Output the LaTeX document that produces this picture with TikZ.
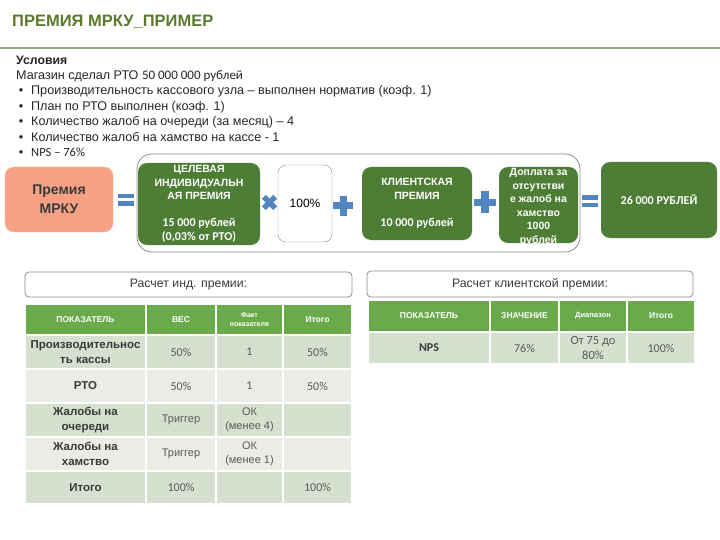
\documentclass[tikz,border=0pt]{standalone}
\usepackage{fontspec}
\setmainfont{Liberation Sans}
\newfontfamily\calib{Carlito}
\usetikzlibrary{positioning}
\definecolor{titlegreen}{HTML}{5A7A2C}
\definecolor{rulegreen}{HTML}{8FA882}
\definecolor{boxgreen}{HTML}{4E7D35}
\definecolor{headgreen}{HTML}{6AAA4A}
\definecolor{rowdark}{HTML}{D5E1CE}
\definecolor{rowlight}{HTML}{E9EDE6}
\definecolor{signblue}{HTML}{5286C2}
\definecolor{salmon}{HTML}{F6A184}
\definecolor{textgray}{HTML}{3A3A3A}
\definecolor{valgray}{HTML}{595959}
\newcommand\fsz[2]{\fontsize{#1}{#2}\selectfont}
\tikzset{
  cond/.style={anchor=base west, inner sep=0pt, text=black!85, font=\fsz{12.6}{15}},
  greenbox/.style={fill=boxgreen, rounded corners=9pt, text=white, align=center,
    inner sep=1pt, font=\bfseries\fsz{10.5}{13.5}},
  groupframe/.style={draw=black!45, rounded corners=15pt, line width=0.8pt},
  capbox/.style={draw=black!45, rounded corners=4pt, line width=0.8pt, text=textgray,
    font=\fsz{12.3}{15}},
  hcell/.style={fill=headgreen, draw=white, line width=1.2pt, text=white, align=center,
    inner sep=0pt, font=\bfseries\fsz{8.5}{10}},
  dcell/.style={fill=rowdark, draw=white, line width=1.2pt, text=valgray, align=center,
    inner sep=0pt, font=\fsz{11}{14}},
  lcell/.style={dcell, fill=rowlight},
  rowlabel/.style={text=textgray, font=\bfseries\fsz{11.5}{15}},
  eqsign/.pic={\fill[signblue] (-8,-6) rectangle (8,-1.5);
    \fill[signblue] (-8,1.5) rectangle (8,6);},
  plussign/.pic={\fill[signblue] (-10,-3.5) rectangle (10,3.5);
    \fill[signblue] (-3.5,-10) rectangle (3.5,10);}
}
\begin{document}
\begin{tikzpicture}[x=1pt,y=-1pt]
  \useasboundingbox (0,0) rectangle (720,540);
  % title
  \node[anchor=base west, inner sep=0pt, text=titlegreen, font=\bfseries\fsz{16.5}{20}]
    (title) at (12,26.5) {ПРЕМИЯ МРКУ\_ПРИМЕР};
  \draw[rulegreen, line width=2pt] (0,48.5) -- (720,48.5);
  % conditions
  \node[cond, font=\bfseries\fsz{12.3}{15}] (cond0) at (16,64.5) {Условия};
  \node[cond] (cond1) at (16,79.5) {Магазин сделал РТО {\calib\fsz{13}{15}50 000 000 рублей}};
  \node[cond] (cond2) at (31,95) {\llap{•\hspace{8pt}}Производительность кассового узла – выполнен норматив (коэф. 1)};
  \node[cond] (cond3) at (31,110.5) {\llap{•\hspace{8pt}}План по РТО выполнен (коэф. 1)};
  \node[cond] (cond4) at (31,126) {\llap{•\hspace{8pt}}Количество жалоб на очереди (за месяц) – 4};
  \node[cond] (cond5) at (31,141.5) {\llap{•\hspace{8pt}}Количество жалоб на хамство на кассе - 1};
  \node[cond] (cond6) at (31,156.5) {\llap{•\hspace{8pt}}{\calib\fsz{12.5}{15}NPS – 76\%}};
  % formula
  \node[groupframe, minimum width=443, minimum height=98] (group) at (358.5,203) {};
  \node[fill=salmon, draw=salmon!75!white, rounded corners=9pt, minimum width=108,
    minimum height=65, align=center, text=textgray, font=\bfseries\fsz{14}{19}]
    (mrku) at (59,199.5) {Премия\\МРКУ};
  \pic at (125.5,200) {eqsign};
  \node[greenbox, minimum width=122, minimum height=82] (target) at (199,204)
    {ЦЕЛЕВАЯ\\ИНДИВИДУАЛЬН\\АЯ ПРЕМИЯ\\~\\{\calib\fsz{12}{13.5}15 000 рублей}\\{\calib\fsz{12}{13.5}(0,03\% от РТО)}};
  \pic[rotate=45, scale=0.8] at (269.5,202.5) {plussign};
  \node[draw=black!45, rounded corners=8pt, minimum width=54, minimum height=77,
    font=\fsz{12}{15}] (pct) at (305,203.5) {100\%};
  \pic at (343,206) {plussign};
  \node[greenbox, minimum width=110, minimum height=73] (client) at (417,203.5)
    {КЛИЕНТСКАЯ\\ПРЕМИЯ\\~\\{\calib\fsz{12}{13.5}10 000 рублей}};
  \pic[scale=1.1] at (485,202.5) {plussign};
  \node[greenbox, minimum width=79, minimum height=76] (extra) at (538.5,205) {};
  \begin{scope}
    \clip (499,150) rectangle (578,242);
    \node[greenbox, fill=none] (extratext) at (538.5,207)
      {Доплата за\\отсутстви\\е жалоб на\\хамство\\1000\\рублей};
  \end{scope}
  \pic at (590,201.5) {eqsign};
  \node[greenbox, minimum width=116, minimum height=76] (total) at (659,200)
    {\calib\fsz{12}{14}26 000 РУБЛЕЙ};
  % individual bonus table
  \node[capbox, minimum width=327, minimum height=25] (cap1) at (188.5,284.5) {Расчет инд. премии:};
  \node[hcell, minimum width=121, minimum height=31] (h11) at (85.5,319.5) {ПОКАЗАТЕЛЬ};
  \node[hcell, minimum width=70, minimum height=31] (h12) at (181,319.5) {ВЕС};
  \node[hcell, minimum width=67, minimum height=31, font=\bfseries\fsz{7}{8.5}] (h13) at (249.5,319.5) {Факт\\показателя};
  \node[hcell, minimum width=69, minimum height=31] (h14) at (317.5,319.5) {Итого};
  \node[dcell, rowlabel, minimum width=121, minimum height=34] (r11) at (85.5,352) {Производительнос\\ть кассы};
  \node[dcell, minimum width=70, minimum height=34, font=\calib\fsz{12}{14}] (r12) at (181,352) {50\%};
  \node[dcell, minimum width=67, minimum height=34, font=\calib\fsz{12}{14}] (r13) at (249.5,352) {1};
  \node[dcell, minimum width=69, minimum height=34, font=\calib\fsz{12}{14}] (r14) at (317.5,352) {50\%};
  \node[lcell, rowlabel, minimum width=121, minimum height=34] (r21) at (85.5,386) {РТО};
  \node[lcell, minimum width=70, minimum height=34, font=\calib\fsz{12}{14}] (r22) at (181,386) {50\%};
  \node[lcell, minimum width=67, minimum height=34, font=\calib\fsz{12}{14}] (r23) at (249.5,386) {1};
  \node[lcell, minimum width=69, minimum height=34, font=\calib\fsz{12}{14}] (r24) at (317.5,386) {50\%};
  \node[dcell, rowlabel, minimum width=121, minimum height=34] (r31) at (85.5,420) {Жалобы на\\очереди};
  \node[dcell, minimum width=70, minimum height=34] (r32) at (181,420) {Триггер};
  \node[dcell, minimum width=67, minimum height=34] (r33) at (249.5,420) {ОК\\(менее 4)};
  \node[dcell, minimum width=69, minimum height=34] (r34) at (317.5,420) {};
  \node[lcell, rowlabel, minimum width=121, minimum height=34] (r41) at (85.5,454) {Жалобы на\\хамство};
  \node[lcell, minimum width=70, minimum height=34] (r42) at (181,454) {Триггер};
  \node[lcell, minimum width=67, minimum height=34] (r43) at (249.5,454) {ОК\\(менее 1)};
  \node[lcell, minimum width=69, minimum height=34] (r44) at (317.5,454) {};
  \node[dcell, rowlabel, minimum width=121, minimum height=33] (r51) at (85.5,487.5) {Итого};
  \node[dcell, minimum width=70, minimum height=33, font=\calib\fsz{12}{14}] (r52) at (181,487.5) {100\%};
  \node[dcell, minimum width=67, minimum height=33] (r53) at (249.5,487.5) {};
  \node[dcell, minimum width=69, minimum height=33, font=\calib\fsz{12}{14}] (r54) at (317.5,487.5) {100\%};
  % client bonus table
  \node[capbox, minimum width=326, minimum height=26] (cap2) at (530,284) {Расчет клиентской премии:};
  \node[hcell, minimum width=122, minimum height=32] (h21) at (429,316) {ПОКАЗАТЕЛЬ};
  \node[hcell, minimum width=69, minimum height=32] (h22) at (524.5,316) {ЗНАЧЕНИЕ};
  \node[hcell, minimum width=68, minimum height=32, font=\bfseries\fsz{7.5}{9}] (h23) at (593,316) {Диапазон};
  \node[hcell, minimum width=68, minimum height=32] (h24) at (661,316) {Итого};
  \node[dcell, minimum width=122, minimum height=32, text=textgray, font=\calib\bfseries\fsz{12}{14}] (n1) at (429,348) {NPS};
  \node[dcell, minimum width=69, minimum height=32, font=\calib\fsz{12}{14}] (n2) at (524.5,348) {76\%};
  \node[dcell, minimum width=68, minimum height=32, font=\calib\fsz{12.5}{15}] (n3) at (593,348) {От 75 до\\80\%};
  \node[dcell, minimum width=68, minimum height=32, font=\calib\fsz{12}{14}] (n4) at (661,348) {100\%};
\end{tikzpicture}
\end{document}
